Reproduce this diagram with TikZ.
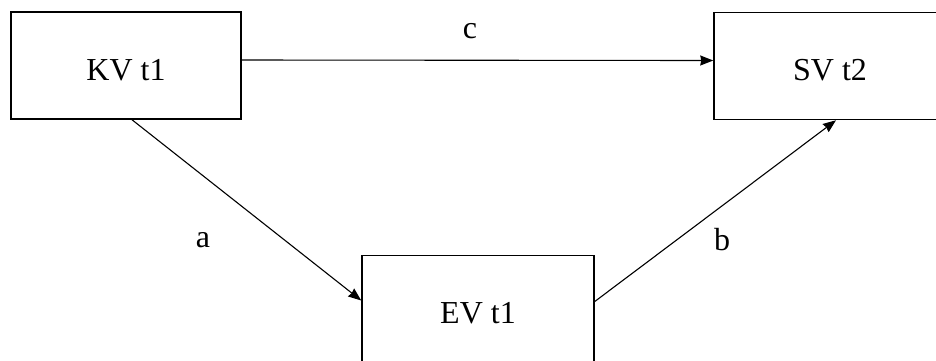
\documentclass[tikz,border=0pt]{standalone}
\usepackage{fontspec}
\setmainfont{Liberation Serif}
\newfontfamily\tnr{Liberation Serif}
\usetikzlibrary{arrows.meta}
\begin{document}
\begin{tikzpicture}[x=1pt,y=-1pt,
  box/.style={draw=black,line width=1.5pt,minimum width=230pt,minimum height=107pt,inner sep=0pt,
    font=\tnr\fontsize{32}{38}\selectfont,text height=29pt,text depth=0pt},
  arr/.style={line width=1.1pt,-{Stealth[length=13pt,width=10pt,inset=1pt]}},
  lab/.style={font=\tnr\fontsize{32}{38}\selectfont,inner sep=0pt}]
\useasboundingbox (0,0) rectangle (936,360);
\clip (0,0) rectangle (936,360);
\node[box] (KV) at (126,65.5) {KV t1};
\node[box,minimum width=232pt] (SV) at (830,66) {SV t2};
\node[box,minimum width=232pt] (EV) at (478,309) {EV t1};
\draw[arr] ([yshift=5.5pt]KV.east) -- ([yshift=5.5pt]SV.west);
\draw[arr] ([xshift=6pt]KV.south) -- ([yshift=8.5pt]EV.west);
\draw[arr] ([yshift=7.5pt]EV.east) -- ([xshift=6pt]SV.south);
\node[lab] (lc) at (470,31) {c};
\node[lab] (la) at (203,240) {a};
\node[lab] (lb) at (722,240) {b};
\end{tikzpicture}
\end{document}
